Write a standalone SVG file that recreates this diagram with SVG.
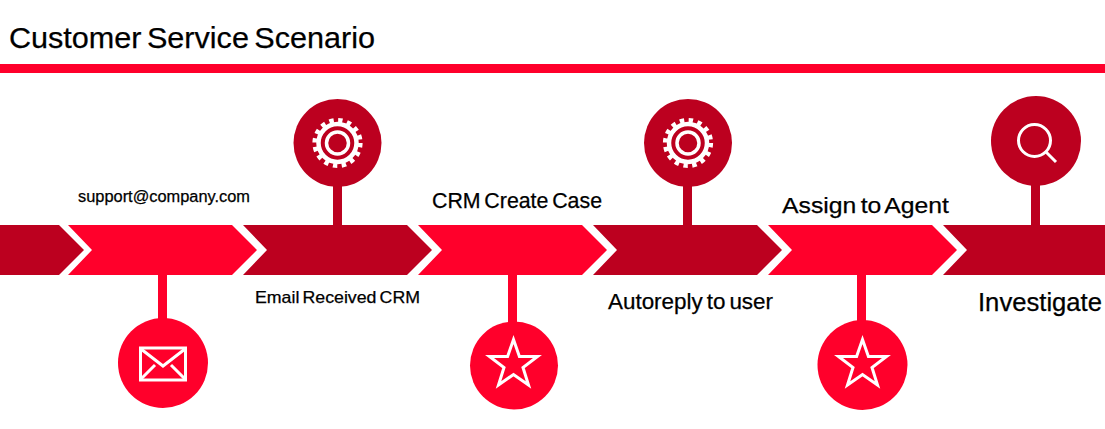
<svg xmlns="http://www.w3.org/2000/svg" width="1105" height="429" viewBox="0 0 1105 429">
<style>
.l{fill:#ff002b}.d{fill:#bc001f}
.t{font-family:"Liberation Sans",Arial,sans-serif;fill:#000;stroke:#000;stroke-width:.25;word-spacing:-.1em}
.i{fill:none;stroke:#fff;stroke-width:3}
.sl{stroke:#ff002b;stroke-width:9}.sd{stroke:#bc001f;stroke-width:9}
</style>
<defs>
<g id="gear"><circle r="19" fill="none" stroke="#fff" stroke-width="4.500"/><circle r="22.800" fill="none" stroke="#fff" stroke-width="4.600" stroke-dasharray="4.400 4.554"/><circle r="11" fill="none" stroke="#fff" stroke-width="3.500"/></g>
<polygon id="star" class="i" points="0,-25 5.900,-8 24,-8 9.500,3 15,20.500 0,10 -15,20.500 -9.500,3 -24,-8 -5.900,-8"/>
</defs>
<rect width="1105" height="429" fill="#fff"/>
<rect id="rule" y="64" width="1105" height="9" class="l"/>
<text id="title" class="t" x="9" y="48" font-size="30" textLength="366" lengthAdjust="spacingAndGlyphs">Customer Service Scenario</text>
<g id="connectors">
<line class="sl" x1="162.500" y1="274" x2="162.500" y2="322"/>
<line class="sd" x1="337.500" y1="180" x2="337.500" y2="226"/>
<line class="sl" x1="512.500" y1="274" x2="512.500" y2="325"/>
<line class="sd" x1="687.500" y1="180" x2="687.500" y2="226"/>
<line class="sl" x1="861.500" y1="274" x2="861.500" y2="325"/>
<line class="sd" x1="1035.500" y1="180" x2="1035.500" y2="226"/>
</g>
<g id="band">
<polygon class="d" points="0,225 59,225 84,250 59,275 0,275"/>
<polygon class="l" points="68,225 232,225 257,250 232,275 68,275 92,250"/>
<polygon class="d" points="243,225 407,225 432,250 407,275 243,275 267,250"/>
<polygon class="l" points="418,225 582,225 607,250 582,275 418,275 442,250"/>
<polygon class="d" points="593,225 757,225 782,250 757,275 593,275 617,250"/>
<polygon class="l" points="768,225 932,225 957,250 932,275 768,275 792,250"/>
<polygon class="d" points="943,225 1105,225 1105,275 943,275 967,250"/>
</g>
<g id="node-mail">
<circle class="l" cx="163" cy="363" r="45"/>
<rect class="i" x="140.500" y="348" width="45" height="32"/>
<path class="i" d="M141,349L163,366L185,349M141,379L155,365M185,379L171,365"/>
</g>
<g id="node-gear-1">
<circle class="d" cx="337.500" cy="143" r="44"/>
<use href="#gear" x="337.500" y="143"/>
</g>
<g id="node-star-1">
<circle class="l" cx="514" cy="365.500" r="44"/>
<use href="#star" x="513.500" y="364.500"/>
</g>
<g id="node-gear-2">
<circle class="d" cx="688" cy="143" r="44"/>
<use href="#gear" x="688" y="143"/>
</g>
<g id="node-star-2">
<circle class="l" cx="862.500" cy="365" r="45"/>
<use href="#star" x="862.500" y="364.500"/>
</g>
<g id="node-search">
<circle class="d" cx="1036" cy="141" r="45"/>
<circle class="i" cx="1034.500" cy="140.500" r="16"/>
<line class="i" x1="1046" y1="152" x2="1056" y2="162"/>
</g>
<g id="labels">
<text class="t" x="78" y="202" font-size="16" textLength="172" lengthAdjust="spacingAndGlyphs">support@company.com</text>
<text class="t" x="255" y="303" font-size="16.500" textLength="165" lengthAdjust="spacingAndGlyphs">Email Received CRM</text>
<text class="t" x="432" y="208" font-size="21.500" textLength="170" lengthAdjust="spacingAndGlyphs">CRM Create Case</text>
<text class="t" x="608" y="309" font-size="21.500" textLength="165" lengthAdjust="spacingAndGlyphs">Autoreply to user</text>
<text class="t" x="782" y="213" font-size="22.500" textLength="167" lengthAdjust="spacingAndGlyphs">Assign to Agent</text>
<text class="t" x="978" y="311" font-size="25" textLength="124" lengthAdjust="spacingAndGlyphs">Investigate</text>
</g>
</svg>
